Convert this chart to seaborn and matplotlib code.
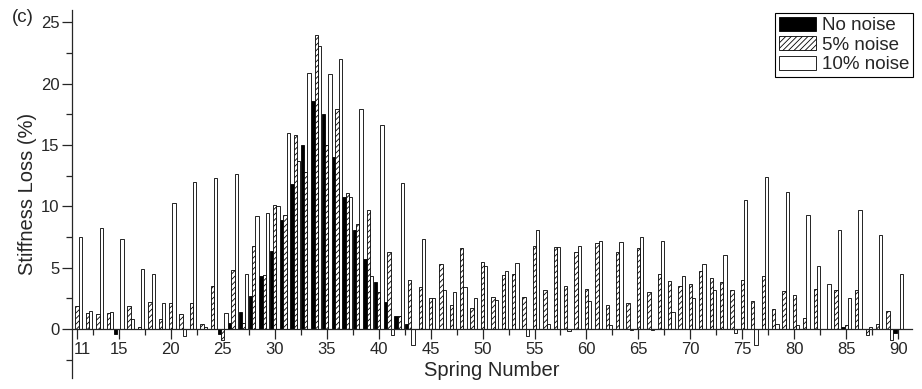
import numpy as np
import pandas as pd
import matplotlib
matplotlib.use('Agg')
import matplotlib.pyplot as plt
import matplotlib.transforms as mtransforms
from matplotlib.patches import Patch
from matplotlib.ticker import FixedLocator
import seaborn as sns

springs = list(range(11, 91))

no_noise = [
    0, 0, 0, 0, -0.4, 0, 0, 0, 0, 0,                          # 11-20
    0, 0, 0, 0, -0.4, 0.5, 1.4, 2.7, 4.3, 6.4,                # 21-30
    8.9, 11.8, 15.0, 18.6, 17.5, 14.0, 10.8, 8.1, 5.7, 3.8,   # 31-40
    2.2, 1.1, 0.4, 0, 0, 0, 0, 0, 0, 0,                       # 41-50
    0, 0, 0, 0, 0, 0, 0, 0, 0, 0,                             # 51-60
    0, 0, 0, 0, 0, 0, 0, 0, 0, 0,                             # 61-70
    0, 0, 0, 0, 0, 0, 0, 0, 0, 0,                             # 71-80
    0, 0, 0, 0, 0.2, 0, 0, 0, 0, -0.3,                        # 81-90
]
noise_5 = [
    1.9, 1.3, 1.2, 1.3, 0, 1.9, 0.2, 2.2, 0.8, 2.1,
    1.2, 2.1, 0.4, 3.5, -0.9, 4.8, 0.5, 6.8, 4.4, 10.1,
    9.3, 15.8, 12.8, 24.0, 15.0, 17.9, 11.1, 8.6, 9.7, 3.0,
    6.3, 1.1, 4.0, 3.4, 2.5, 5.3, 2.0, 6.6, 1.7, 5.5,
    2.6, 4.4, 4.5, 2.6, 6.8, 3.2, 6.7, 3.5, 6.3, 3.3,
    7.0, 2.0, 6.3, 2.1, 6.6, 3.0, 4.5, 3.9, 3.5, 3.7,
    4.7, 4.2, 3.8, 3.2, 4.0, 2.3, 4.3, 1.6, 3.1, 2.8,
    0.9, 3.3, 0, 3.2, 0.3, 3.2, -0.5, 0.4, 1.5, 0,
]
noise_10 = [
    7.5, 1.5, 8.2, 1.4, 7.3, 0.8, 4.9, 4.5, 2.1, 10.3,
    -0.6, 12.0, 0.2, 12.3, 1.3, 12.6, 4.5, 9.2, 9.5, 10.0,
    16.0, 13.7, 20.9, 23.1, 20.8, 22.0, 10.8, 17.9, 4.3, 16.6,
    -0.5, 11.9, -1.3, 7.3, 2.5, 3.2, 3.0, 3.4, 2.5, 5.1,
    2.4, 4.7, 5.4, -0.6, 8.1, 0.4, 6.7, -0.2, 6.8, 2.3,
    7.2, 0.3, 7.1, -0.1, 7.5, -0.1, 7.2, 1.4, 4.3, 2.5,
    5.3, 3.2, 6.0, -0.3, 10.5, -1.3, 12.4, 0.4, 11.2, 0.3,
    9.3, 5.1, 3.7, 8.1, 2.5, 9.7, 0.2, 7.7, -0.9, 4.5,
]
series_names = ['No noise', '5% noise', '10% noise']
x_tick_labels = [11, 15, 20, 25, 30, 35, 40, 45, 50, 55, 60, 65, 70, 75, 80, 85, 90]

df = pd.DataFrame({
    'spring': springs * 3,
    'loss': no_noise + noise_5 + noise_10,
    'noise': [series_names[0]] * 80 + [series_names[1]] * 80 + [series_names[2]] * 80,
})

sns.set_style('ticks')
plt.rcParams['font.family'] = ['Liberation Sans', 'DejaVu Sans']
plt.rcParams['hatch.linewidth'] = 0.6

fig = plt.figure(figsize=(9.22, 3.89), dpi=100)
ax = fig.add_axes([0.078, 0.028, 0.911, 0.946])

sns.barplot(data=df, x='spring', y='loss', hue='noise', hue_order=series_names,
            palette=['black', 'white', 'white'], width=0.95, edgecolor='black',
            linewidth=0.6, saturation=1, legend=False, ax=ax)

for bar in ax.containers[1]:
    bar.set_hatch('//////')

ax.set_xlim(-0.5, 80.3)
ax.set_ylim(-4, 26)

ax.spines['top'].set_visible(False)
ax.spines['right'].set_visible(False)
ax.spines['bottom'].set_position(('data', 0))
ax.spines['left'].set_linewidth(0.9)
ax.spines['bottom'].set_linewidth(0.9)

ax.set_yticks([0, 5, 10, 15, 20, 25])
ax.yaxis.set_minor_locator(FixedLocator(np.arange(-2.5, 25, 5)))
ax.set_xticks([s - 11 for s in x_tick_labels])
ax.set_xticklabels([str(s) for s in x_tick_labels])
ax.xaxis.set_minor_locator(FixedLocator(np.arange(1.5, 80, 5)))
ax.tick_params(which='major', direction='out', length=7, width=0.9, labelsize=12, pad=2)
ax.tick_params(which='minor', direction='out', length=4, width=0.9)

ax.set_xlabel('Spring Number', fontsize=14.5, labelpad=3)
ax.set_ylabel('Stiffness Loss (%)', fontsize=14.5, labelpad=3)

# first label sits a little right of its tick, clear of the y axis
first = ax.get_xticklabels()[0]
first.set_transform(first.get_transform() + mtransforms.ScaledTranslation(0.05, 0, fig.dpi_scale_trans))

handles = [
    Patch(facecolor='black', edgecolor='black', linewidth=0.6),
    Patch(facecolor='white', edgecolor='black', hatch='//////', linewidth=0.6),
    Patch(facecolor='white', edgecolor='black', linewidth=0.6),
]
leg = ax.legend(handles, series_names, loc='upper right', bbox_to_anchor=(0.990, 0.967),
                bbox_transform=fig.transFigure, fontsize=13.5, frameon=True, fancybox=False,
                edgecolor='black', framealpha=1, handlelength=2.0, handleheight=0.8,
                handletextpad=0.3, labelspacing=0.1, borderpad=0.2, borderaxespad=0)
leg.get_frame().set_linewidth(0.8)

fig.text(0.013, 0.954, '(c)', fontsize=13.5, va='center')

fig.savefig('out.png', dpi=100)
plt.close(fig)
